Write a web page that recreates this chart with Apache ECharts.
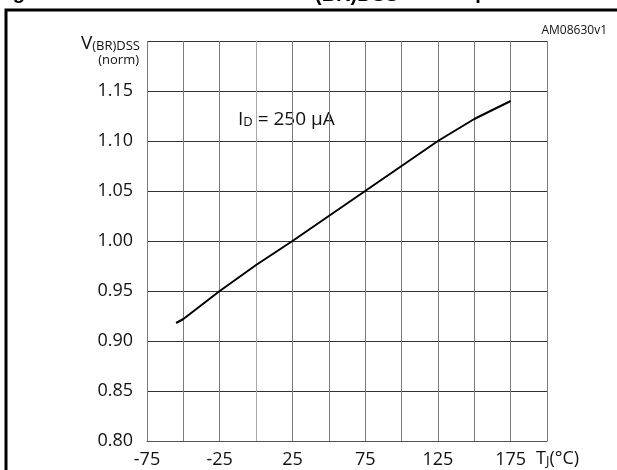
<!DOCTYPE html>
<html><head><meta charset="utf-8">
<script src="https://cdn.jsdelivr.net/npm/echarts/dist/echarts.min.js"></script>
<style>html,body{margin:0;padding:0;background:#fff}#c{width:617px;height:470px}</style>
</head><body><div id="c"></div>
<script>
// Data
const temperatures = [-55, -50, -25, 0, 25, 50, 75, 100, 125, 150, 175];
const vbrdssNorm   = [0.918, 0.922, 0.950, 0.976, 1.000, 1.025, 1.050, 1.075, 1.100, 1.122, 1.140];
const xTickLabels  = [-75, -25, 25, 75, 125, 175];
const yTickLabels  = ['0.80', '0.85', '0.90', '0.95', '1.00', '1.05', '1.10', '1.15'];

const FONT = '"Open Sans", "Liberation Sans", sans-serif';
const chart = echarts.init(document.getElementById('c'), null, {renderer: 'canvas'});

const seriesData = temperatures.map((t, i) => [t, vbrdssNorm[i]]);

chart.setOption({
  animation: false,
  backgroundColor: '#fff',
  grid: {left: 147, right: 70, top: 41, bottom: 29, containLabel: false},
  xAxis: {
    type: 'value', min: -75, max: 200, interval: 25,
    axisLine: {show: true, onZero: false, lineStyle: {color: '#555', width: 1}},
    axisTick: {show: false},
    splitLine: {show: true, lineStyle: {color: '#7a7a7a', width: 1}},
    axisLabel: {
      formatter: v => xTickLabels.indexOf(Math.round(v)) >= 0 ? String(Math.round(v)) : '',
      fontFamily: FONT, fontSize: 18, color: '#111', margin: 10,
      showMinLabel: true, showMaxLabel: true
    }
  },
  yAxis: {
    type: 'value', min: 0.8, max: 1.2, interval: 0.05,
    axisLine: {show: true, lineStyle: {color: '#aaa', width: 1}},
    axisTick: {show: false},
    splitLine: {show: true, lineStyle: {color: '#333', width: 1}},
    axisLabel: {
      formatter: v => { const s = v.toFixed(2); return yTickLabels.indexOf(s) >= 0 ? s : ''; },
      fontFamily: FONT, fontSize: 18, color: '#111', margin: 14
    }
  },
  series: [{
    type: 'line', data: seriesData, symbol: 'none', smooth: false,
    lineStyle: {color: '#000', width: 2}
  }],
  graphic: [
    {type: 'rect', shape: {x: 6, y: 10, width: 800, height: 700},
     style: {fill: 'none', stroke: '#000', lineWidth: 3}, silent: true},
    {type: 'text', left: -5, top: -17,
     style: {text: 'Figure 8.', font: 'bold 20px "Liberation Sans", Arial, sans-serif', fill: '#000'}},
    {type: 'text', x: 315, y: -15,
     style: {text: '(BR)DSS', font: 'bold 20px "Liberation Sans", Arial, sans-serif', fill: '#000'}},
    {type: 'text', x: 412, y: -17,
     style: {text: 'vs temperature', font: 'bold 20px "Liberation Sans", Arial, sans-serif', fill: '#000'}},
    {type: 'text', x: 607, y: 31,
     style: {text: 'AM08630v1', fontFamily: FONT, fontSize: 12, fill: '#111', align: 'right', verticalAlign: 'middle'}},
    {type: 'text', x: 140, y: 42,
     style: {text: '{a|V}{b|(BR)DSS}', align: 'right', verticalAlign: 'middle', fill: '#111',
       rich: {a: {fontFamily: FONT, fontSize: 19, lineHeight: 22, verticalAlign: 'bottom'},
              b: {fontFamily: FONT, fontSize: 13, lineHeight: 16, verticalAlign: 'bottom'}}}},
    {type: 'text', x: 139, y: 60,
     style: {text: '(norm)', fontFamily: FONT, fontSize: 13, fill: '#111', align: 'right', verticalAlign: 'middle'}},
    {type: 'text', x: 238, y: 118,
     style: {text: '{a|I}{b|D}{a| = 250 µA}', align: 'left', verticalAlign: 'middle', fill: '#111',
       rich: {a: {fontFamily: FONT, fontSize: 19, lineHeight: 22, verticalAlign: 'bottom'},
              b: {fontFamily: FONT, fontSize: 13, lineHeight: 15, verticalAlign: 'bottom'}}}},
    {type: 'text', x: 536, y: 457,
     style: {text: '{a|T}{b|J}{a|(°C)}', align: 'left', verticalAlign: 'middle', fill: '#111',
       rich: {a: {fontFamily: FONT, fontSize: 18, lineHeight: 22, verticalAlign: 'bottom'},
              b: {fontFamily: FONT, fontSize: 13, lineHeight: 16, verticalAlign: 'bottom'}}}}
  ]
});
</script>
</body></html>
